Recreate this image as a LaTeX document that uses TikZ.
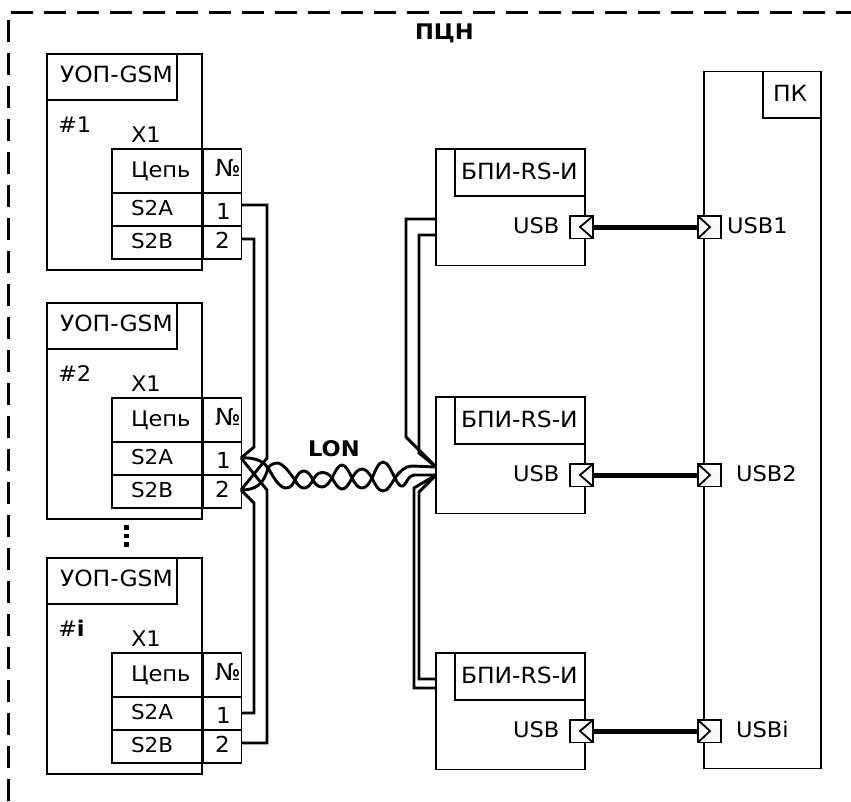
\documentclass[tikz,border=0pt]{standalone}
\usepackage{fontspec}
\setmainfont[FakeStretch=1.05]{DejaVu Sans}
\begin{document}
\begin{tikzpicture}[x=1pt,y=-1pt,
  box/.style={draw=black,line width=1.8pt,inner sep=0pt,outer sep=0pt,anchor=north west},
  wire/.style={draw=black,line width=2.9pt,line join=miter},
  txt/.style={inner sep=0pt,outer sep=0pt,anchor=base west,font=\fontsize{21.5}{21.5}\selectfont},
  head/.style={txt,font=\fontsize{22.3}{22.3}\selectfont},
  small/.style={txt,font=\fontsize{20.5}{20.5}\selectfont},
  digit/.style={txt,font=\fontsize{22}{22}\selectfont},
  numsign/.style={txt,font=\fontsize{23.5}{23.5}\selectfont},
  bold/.style={txt,font=\fontsize{21.5}{21.5}\selectfont\bfseries},
  usbc/.style={box,fill=white!98!black,minimum width=23pt,minimum height=22.5pt},
  chev/.style={draw=black,line width=1.8pt,line join=miter},
  thick wire/.style={draw=black,line width=5.2pt}]
\useasboundingbox (0,0) rectangle (851,801);
% frame
\draw[black,line width=3pt,dash pattern=on 22pt off 11pt] (8,801) -- (8,12) -- (851,12);
\node[bold] (title) at (415,39) {ПЦН};
% left units
\foreach \n/\o/\lab in {1/0/{\#1},2/249/{\#2},3/504/{\#\textbf{i}}}{
  \node[box,minimum width=155pt,minimum height=216pt] (u\n) at (47,54+\o) {};
  \node[box,minimum width=130pt,minimum height=46pt] (uh\n) at (47,54+\o) {};
  \node[head] (un\n) at (60,82+\o) {УОП-GSM};
  \node[txt] (ul\n) at (58,132+\o) {\lab};
  \node[txt] (ux\n) at (131,142+\o) {X1};
  \node[box,minimum width=91pt,minimum height=44pt] (ca\n) at (112,149+\o) {};
  \node[box,minimum width=38.5pt,minimum height=44pt] (cb\n) at (203,149+\o) {};
  \node[box,minimum width=91pt,minimum height=33pt] (cc\n) at (112,193+\o) {};
  \node[box,minimum width=38.5pt,minimum height=33pt] (cd\n) at (203,193+\o) {};
  \node[box,minimum width=91pt,minimum height=33pt] (ce\n) at (112,226+\o) {};
  \node[box,minimum width=38.5pt,minimum height=33pt] (cf\n) at (203,226+\o) {};
  \node[txt] (tz\n) at (131,177+\o) {Цепь};
  \node[numsign] (tn\n) at (215,176+\o) {№};
  \node[small] (ta\n) at (131,215+\o) {S2A};
  \node[small] (tb\n) at (131,248+\o) {S2B};
  \node[digit] (t1\n) at (216,219+\o) {1};
  \node[digit] (t2\n) at (215,248+\o) {2};
}
% dots
\fill[black] (124,525) rectangle (129,529.5);
\fill[black] (124,533.5) rectangle (129,538);
\fill[black] (124,542) rectangle (129,546.5);
% PK
\node[box,minimum width=117pt,minimum height=697pt] (pk) at (704,71.5) {};
\node[box,minimum width=58pt,minimum height=46.5pt] (pkh) at (763,71.5) {};
\node[head] (pkt) at (773,101.5) {ПК};
% BPI units
\foreach \n/\o/\lab/\lx in {1/0/USB1/727,2/248/USB2/736,3/504/USBi/736}{
  \node[box,minimum width=149pt,minimum height=116.5pt] (b\n) at (436,149+\o) {};
  \node[box,minimum width=130pt,minimum height=47pt] (bh\n) at (455,149+\o) {};
  \node[head] (bt\n) at (461,179+\o) {БПИ-RS-И};
  \node[txt] (bu\n) at (513,233+\o) {USB};
  \node[usbc] (cl\n) at (570,216+\o) {};
  \node[usbc] (cr\n) at (698,216+\o) {};
  \draw[chev] (cl\n.north east) -- (580,227+\o) -- (cl\n.south east);
  \draw[chev] (cr\n.north west) -- (710,227+\o) -- (cr\n.south west);
  \draw[thick wire] (cl\n.east) -- (cr\n.west);
  \node[txt] (pl\n) at (\lx,233+\o) {\lab};
}
\node[bold] (lon) at (308,456) {LON};
% pins
\coordinate (p11) at (241,205);
\coordinate (p12) at (241,239);
\coordinate (p21) at (241,458);
\coordinate (p22) at (241,490);
\coordinate (p31) at (241,713);
\coordinate (p32) at (241,743);
\coordinate (q1a) at (436,219);
\coordinate (q1b) at (436,235);
\coordinate (q2a) at (436,467);
\coordinate (q2b) at (436,475);
\coordinate (q3a) at (436,679);
\coordinate (q3b) at (436,688);
% left wires
\draw[wire] (p11) -- (267,205) -- (267,458) -- (p22);
\draw[wire] (p12) -- (254,239) -- (254,447) -- (p21);
\draw[wire] (p32) -- (267,743) -- (267,490) -- (p21);
\draw[wire] (p31) -- (254,713) -- (254,503) -- (p22);
% right wires
\draw[wire] (q1a) -- (406,219) -- (406,437) -- (q2a);
\draw[wire] (q1b) -- (419,235) -- (419,453) -- (q2a);
\draw[wire] (q3b) -- (414,688) -- (414,488) -- (q2b);
\draw[wire] (q3a) -- (419,679) -- (419,492) -- (q2b);
% twisted pair
\draw[wire,line join=round] (p21) .. controls (256,457) and (264,462) .. (268,468)
  .. controls (273,476) and (279,488) .. (286,488)
  .. controls (291,488) and (293,484) .. (295,480)
  .. controls (297,475) and (300,471) .. (304,471)
  .. controls (308,471) and (311,476) .. (313,480)
  .. controls (315,484) and (318,487) .. (322,487)
  .. controls (326,487) and (329,483) .. (332,478)
  .. controls (335,472) and (338,465) .. (342,465)
  .. controls (346,465) and (349,472) .. (352,478)
  .. controls (355,484) and (358,488) .. (362,488)
  .. controls (366,488) and (369,484) .. (372,478)
  .. controls (375,472) and (378,462) .. (383,462)
  .. controls (388,462) and (391,471) .. (395,478)
  .. controls (398,484) and (400,487) .. (403,486)
  .. controls (406,485) and (408,475) .. (414,475)
  -- (q2b);
\draw[wire,line join=round] (p22) .. controls (256,490) and (264,484) .. (268,468)
  .. controls (270,465) and (274,463) .. (277,463)
  .. controls (283,463) and (290,473) .. (295,480)
  .. controls (297,484) and (300,488) .. (304,488)
  .. controls (308,488) and (311,484) .. (313,480)
  .. controls (315,476) and (318,472.5) .. (322,472.5)
  .. controls (326,472.5) and (329,474) .. (332,478)
  .. controls (335,483) and (338,489) .. (342,489)
  .. controls (346,489) and (349,484) .. (352,478)
  .. controls (355,473) and (358,469) .. (362,469)
  .. controls (366,469) and (369,473) .. (372,478)
  .. controls (375,484) and (378,491) .. (383,491)
  .. controls (388,491) and (391,484) .. (395,478)
  .. controls (399,472) and (405,466) .. (412,466)
  -- (q2a);
\end{tikzpicture}
\end{document}
